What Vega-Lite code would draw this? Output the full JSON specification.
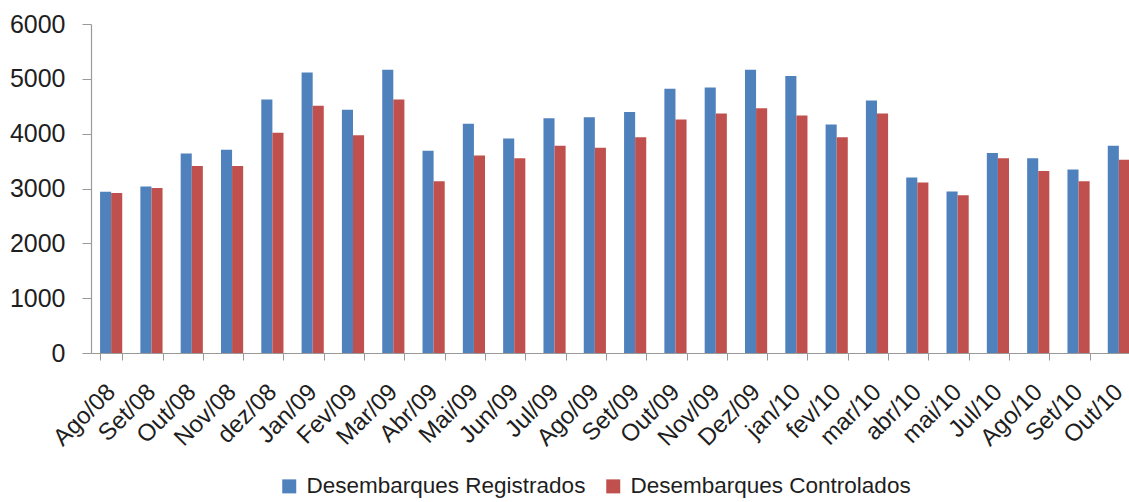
{
  "$schema": "https://vega.github.io/schema/vega-lite/v6.json",
  "width": 1048,
  "height": 329,
  "autosize": {"type": "none"},
  "padding": {"left": 91, "top": 24, "right": 0, "bottom": 149},
  "background": "white",
  "config": {
    "view": {"stroke": null},
    "font": "Liberation Sans",
    "axis": {"grid": false, "domainColor": "#9a9a9a", "tickColor": "#9a9a9a", "labelColor": "#1e1e1e", "labelFont": "Liberation Sans", "titleFont": "Liberation Sans"}
  },
  "data": {
    "values": [
      {"mes": "Ago/08", "serie": "Desembarques Registrados", "valor": 2940},
      {"mes": "Ago/08", "serie": "Desembarques Controlados", "valor": 2920},
      {"mes": "Set/08", "serie": "Desembarques Registrados", "valor": 3035},
      {"mes": "Set/08", "serie": "Desembarques Controlados", "valor": 3010},
      {"mes": "Out/08", "serie": "Desembarques Registrados", "valor": 3640},
      {"mes": "Out/08", "serie": "Desembarques Controlados", "valor": 3410},
      {"mes": "Nov/08", "serie": "Desembarques Registrados", "valor": 3705},
      {"mes": "Nov/08", "serie": "Desembarques Controlados", "valor": 3410},
      {"mes": "dez/08", "serie": "Desembarques Registrados", "valor": 4625},
      {"mes": "dez/08", "serie": "Desembarques Controlados", "valor": 4015},
      {"mes": "Jan/09", "serie": "Desembarques Registrados", "valor": 5115},
      {"mes": "Jan/09", "serie": "Desembarques Controlados", "valor": 4510},
      {"mes": "Fev/09", "serie": "Desembarques Registrados", "valor": 4435},
      {"mes": "Fev/09", "serie": "Desembarques Controlados", "valor": 3970},
      {"mes": "Mar/09", "serie": "Desembarques Registrados", "valor": 5165},
      {"mes": "Mar/09", "serie": "Desembarques Controlados", "valor": 4625},
      {"mes": "Abr/09", "serie": "Desembarques Registrados", "valor": 3690},
      {"mes": "Abr/09", "serie": "Desembarques Controlados", "valor": 3130},
      {"mes": "Mai/09", "serie": "Desembarques Registrados", "valor": 4180},
      {"mes": "Mai/09", "serie": "Desembarques Controlados", "valor": 3600},
      {"mes": "Jun/09", "serie": "Desembarques Registrados", "valor": 3910},
      {"mes": "Jun/09", "serie": "Desembarques Controlados", "valor": 3550},
      {"mes": "Jul/09", "serie": "Desembarques Registrados", "valor": 4280},
      {"mes": "Jul/09", "serie": "Desembarques Controlados", "valor": 3780},
      {"mes": "Ago/09", "serie": "Desembarques Registrados", "valor": 4300},
      {"mes": "Ago/09", "serie": "Desembarques Controlados", "valor": 3745},
      {"mes": "Set/09", "serie": "Desembarques Registrados", "valor": 4395},
      {"mes": "Set/09", "serie": "Desembarques Controlados", "valor": 3935},
      {"mes": "Out/09", "serie": "Desembarques Registrados", "valor": 4820},
      {"mes": "Out/09", "serie": "Desembarques Controlados", "valor": 4260},
      {"mes": "Nov/09", "serie": "Desembarques Registrados", "valor": 4840},
      {"mes": "Nov/09", "serie": "Desembarques Controlados", "valor": 4370},
      {"mes": "Dez/09", "serie": "Desembarques Registrados", "valor": 5165},
      {"mes": "Dez/09", "serie": "Desembarques Controlados", "valor": 4465},
      {"mes": "jan/10", "serie": "Desembarques Registrados", "valor": 5050},
      {"mes": "jan/10", "serie": "Desembarques Controlados", "valor": 4330},
      {"mes": "fev/10", "serie": "Desembarques Registrados", "valor": 4165},
      {"mes": "fev/10", "serie": "Desembarques Controlados", "valor": 3935},
      {"mes": "mar/10", "serie": "Desembarques Registrados", "valor": 4605},
      {"mes": "mar/10", "serie": "Desembarques Controlados", "valor": 4370},
      {"mes": "abr/10", "serie": "Desembarques Registrados", "valor": 3200},
      {"mes": "abr/10", "serie": "Desembarques Controlados", "valor": 3110},
      {"mes": "mai/10", "serie": "Desembarques Registrados", "valor": 2945},
      {"mes": "mai/10", "serie": "Desembarques Controlados", "valor": 2875},
      {"mes": "Jul/10", "serie": "Desembarques Registrados", "valor": 3648},
      {"mes": "Jul/10", "serie": "Desembarques Controlados", "valor": 3550},
      {"mes": "Ago/10", "serie": "Desembarques Registrados", "valor": 3550},
      {"mes": "Ago/10", "serie": "Desembarques Controlados", "valor": 3320},
      {"mes": "Set/10", "serie": "Desembarques Registrados", "valor": 3345},
      {"mes": "Set/10", "serie": "Desembarques Controlados", "valor": 3130},
      {"mes": "Out/10", "serie": "Desembarques Registrados", "valor": 3780},
      {"mes": "Out/10", "serie": "Desembarques Controlados", "valor": 3525}
    ]
  },
  "mark": {"type": "bar"},
  "encoding": {
    "x": {
      "field": "mes",
      "type": "nominal",
      "sort": null,
      "scale": {"paddingInner": 0.45, "paddingOuter": 0.225},
      "axis": {
        "title": null,
        "labelAngle": -45,
        "labelAlign": "right",
        "labelBaseline": "middle",
        "labelFontSize": 24,
        "labelPadding": 28,
        "tickSize": 7,
        "tickBand": "extent",
        "labelOverlap": false,
        "domainWidth": 1.2
      }
    },
    "xOffset": {
      "field": "serie",
      "type": "nominal",
      "sort": ["Desembarques Registrados", "Desembarques Controlados"],
      "scale": {"paddingInner": 0, "paddingOuter": 0}
    },
    "y": {
      "field": "valor",
      "type": "quantitative",
      "scale": {"domain": [0, 6000], "nice": false},
      "axis": {
        "title": null,
        "values": [0, 1000, 2000, 3000, 4000, 5000, 6000],
        "format": "d",
        "labelFontSize": 25,
        "labelPadding": 17,
        "tickSize": 9,
        "domainWidth": 1.2
      }
    },
    "color": {
      "field": "serie",
      "type": "nominal",
      "sort": ["Desembarques Registrados", "Desembarques Controlados"],
      "scale": {"domain": ["Desembarques Registrados", "Desembarques Controlados"], "range": ["#4F81BD", "#C0504D"]},
      "legend": {
        "title": null,
        "orient": "none",
        "direction": "horizontal",
        "legendX": 187,
        "legendY": 451,
        "padding": 0,
        "symbolType": "square",
        "symbolSize": 196,
        "symbolStrokeWidth": 0,
        "labelFontSize": 22.5,
        "labelLimit": 0,
        "labelColor": "#1e1e1e",
        "labelOffset": 6,
        "columnPadding": 16
      }
    }
  }
}
